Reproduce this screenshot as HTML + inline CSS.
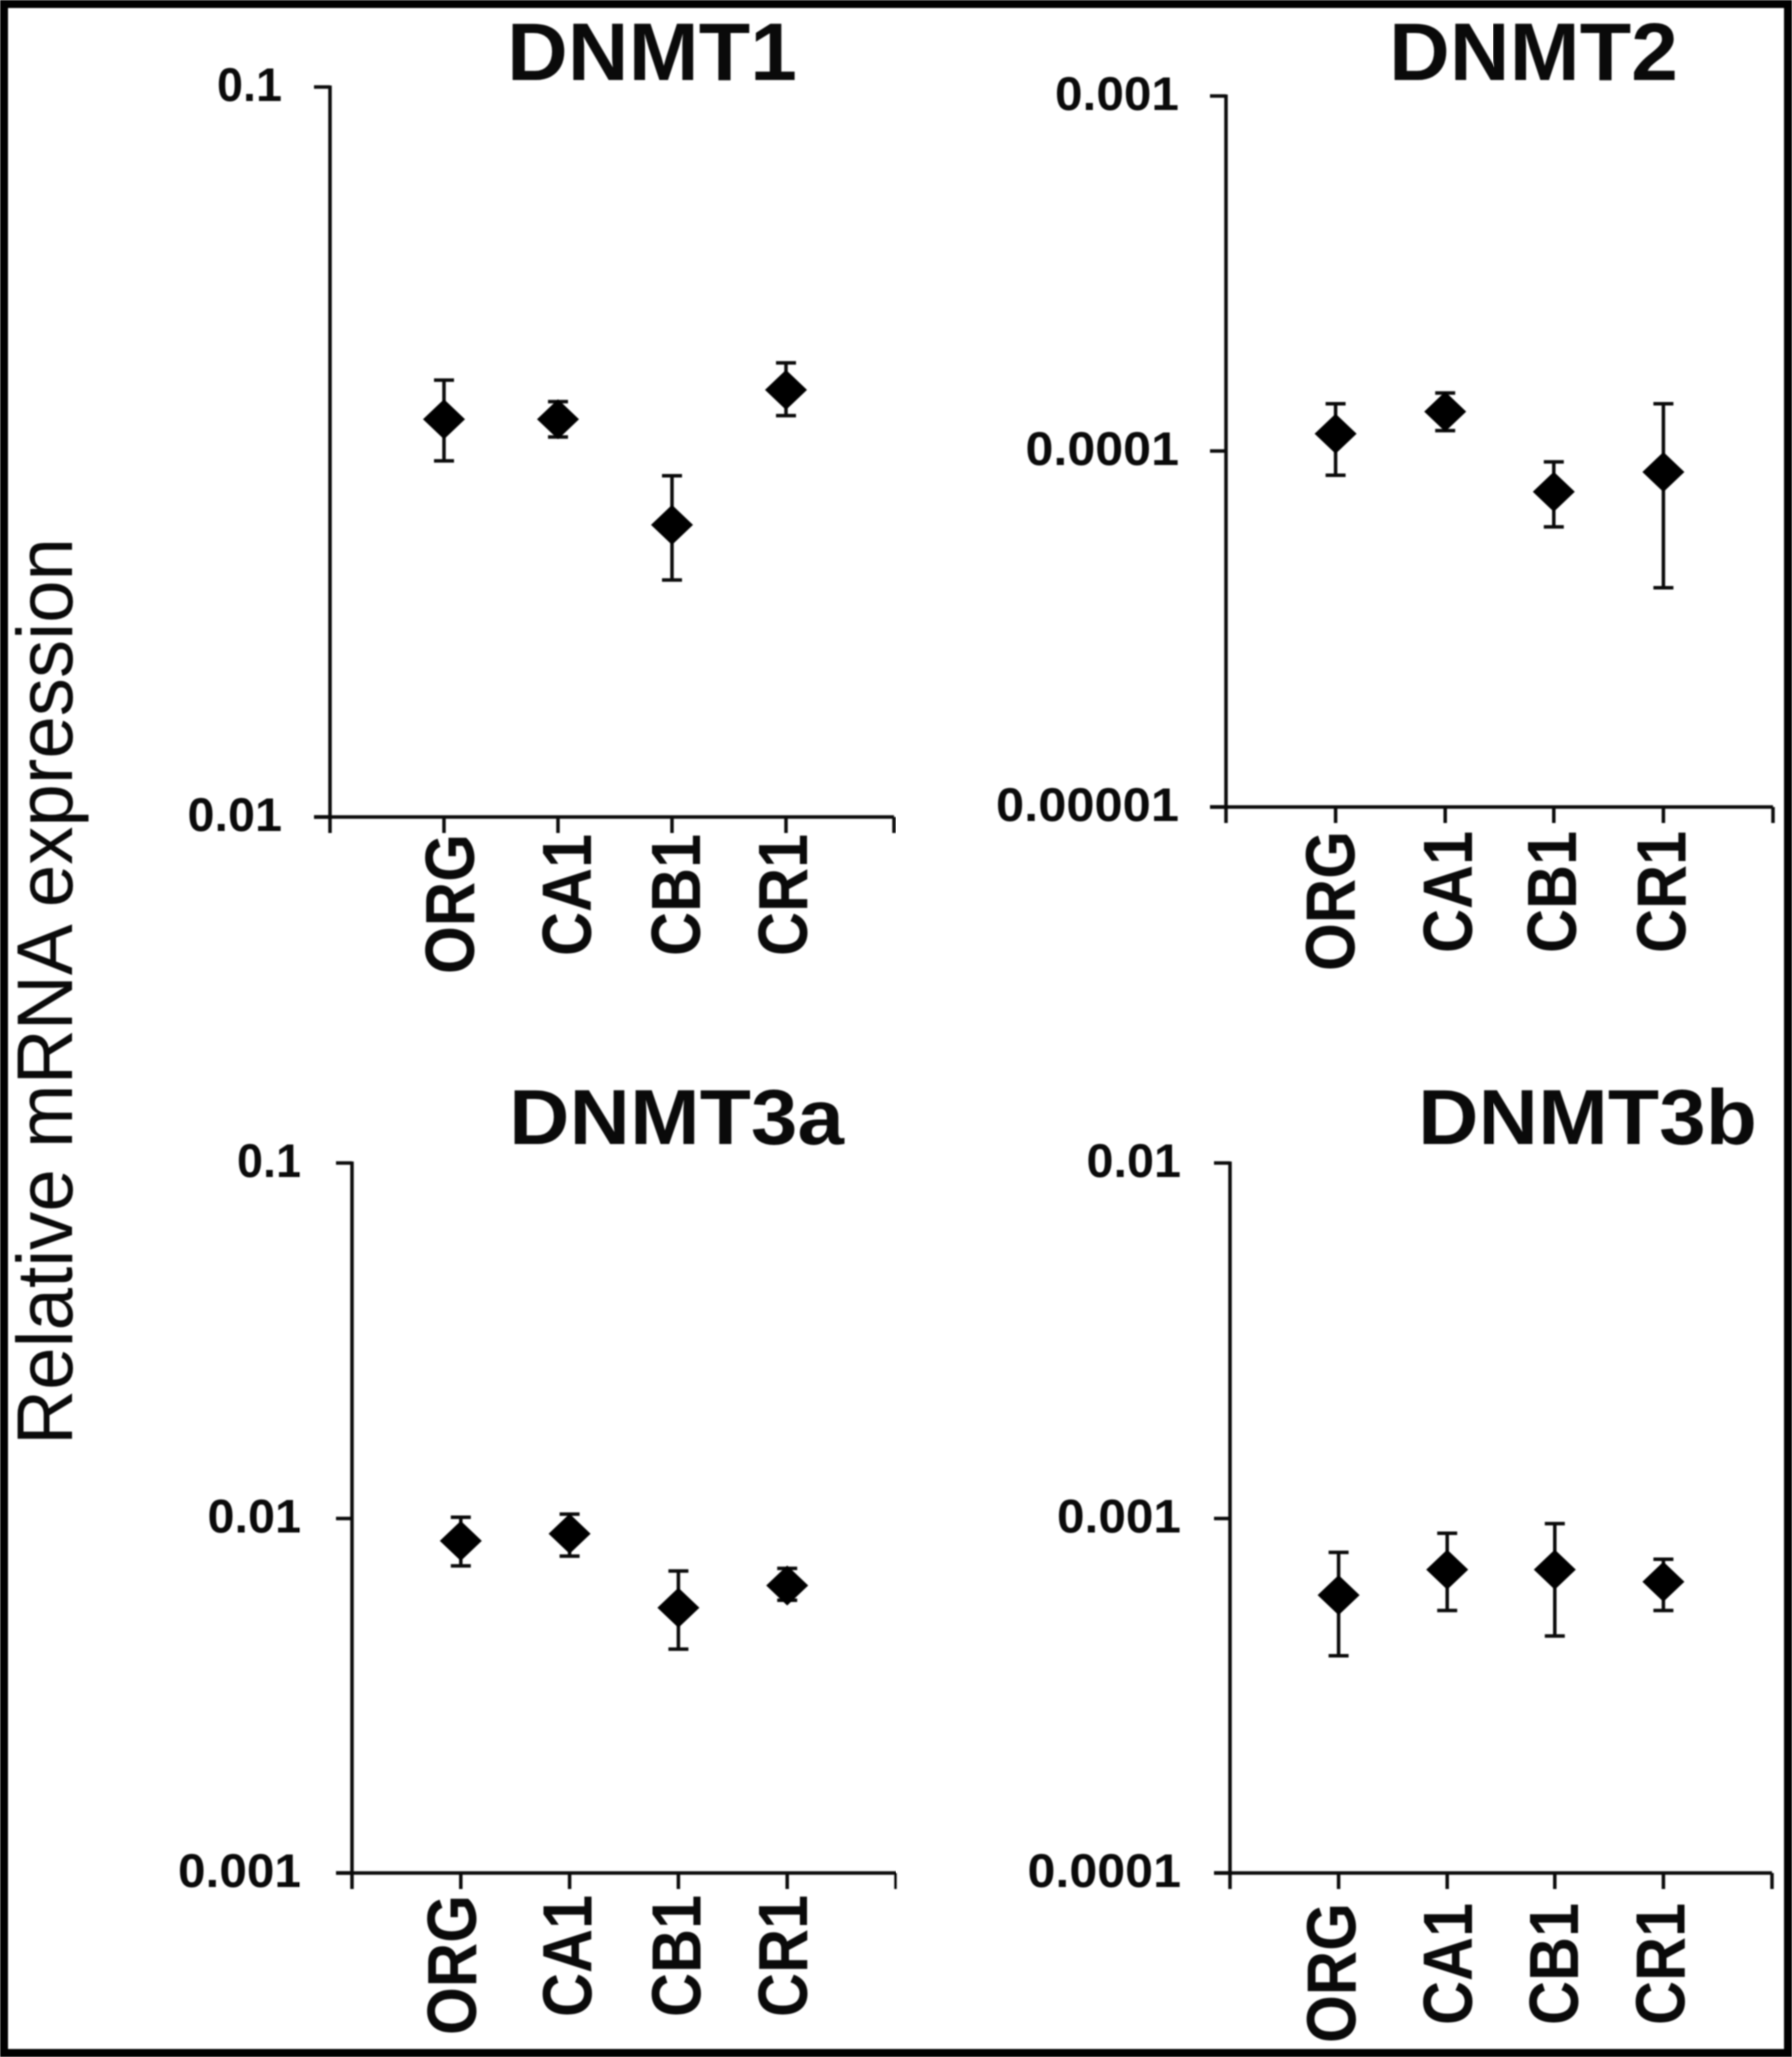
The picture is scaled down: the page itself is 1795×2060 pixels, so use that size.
<!DOCTYPE html>
<html lang="en">
<head>
<meta charset="utf-8">
<title>DNMT relative mRNA expression</title>
<style>
  html, body { margin: 0; padding: 0; background: #fff; }
  svg { display: block; filter: blur(0.9px); }
  text { font-family: "Liberation Sans", sans-serif; fill: #0a0a0a; }
  .bold { font-weight: 700; }
</style>
</head>
<body>
<svg id="figure" xmlns="http://www.w3.org/2000/svg" width="1795" height="2060" viewBox="0 0 1795 2060">
  <rect x="0" y="0" width="1795" height="2060" fill="#000"/>
  <rect x="8" y="8" width="1779" height="2044" fill="#fff"/>
  <text transform="translate(72,1447) rotate(-90)" font-size="79" textLength="908" lengthAdjust="spacingAndGlyphs">Relative mRNA expression</text>
  <text class="bold" x="508" y="80" font-size="82" textLength="290" lengthAdjust="spacingAndGlyphs">DNMT1</text>
  <text class="bold" x="1391" y="80" font-size="82" textLength="290" lengthAdjust="spacingAndGlyphs">DNMT2</text>
  <text class="bold" x="510" y="1146" font-size="78" textLength="335" lengthAdjust="spacingAndGlyphs">DNMT3a</text>
  <text class="bold" x="1420" y="1146" font-size="78" textLength="340" lengthAdjust="spacingAndGlyphs">DNMT3b</text>
</svg>
<script>
const categories = ['ORG', 'CA1', 'CB1', 'CR1'];

const dnmt1Ticks = ['0.1', '0.01'];
const dnmt1Mean = [0.0350, 0.0350, 0.0251, 0.0384];
const dnmt1High = [0.0396, 0.0370, 0.0293, 0.0418];
const dnmt1Low = [0.0307, 0.0331, 0.0211, 0.0354];

const dnmt2Ticks = ['0.001', '0.0001', '0.00001'];
const dnmt2Mean = [0.0001118, 0.000129, 0.0000768, 0.0000873];
const dnmt2High = [0.0001357, 0.0001455, 0.0000932, 0.0001357];
const dnmt2Low = [0.0000855, 0.0001141, 0.0000612, 0.0000413];

const dnmt3aTicks = ['0.1', '0.01', '0.001'];
const dnmt3aMean = [0.00865, 0.00906, 0.00561, 0.00648];
const dnmt3aHigh = [0.01008, 0.01029, 0.00712, 0.00724];
const dnmt3aLow = [0.00736, 0.00784, 0.00429, 0.00589];

const dnmt3bTicks = ['0.01', '0.001', '0.0001'];
const dnmt3bMean = [0.000609, 0.000718, 0.000718, 0.000664];
const dnmt3bHigh = [0.000803, 0.000909, 0.000967, 0.000768];
const dnmt3bLow = [0.000411, 0.000551, 0.000467, 0.000551];

const panels = [
  { key: 'dnmt1', ticks: dnmt1Ticks, mean: dnmt1Mean, high: dnmt1High, low: dnmt1Low,
    left: 331, right: 895, scaleRight: 901, top: 87, bottom: 818, tickLabelRight: 281, catTop: 835, catNudge: [30, 33, 28, 21] },
  { key: 'dnmt2', ticks: dnmt2Ticks, mean: dnmt2Mean, high: dnmt2High, low: dnmt2Low,
    left: 1228, right: 1776, scaleRight: 1776, top: 96, bottom: 808, tickLabelRight: 1180, catTop: 832, catNudge: [19, 27, 22, 22] },
  { key: 'dnmt3a', ticks: dnmt3aTicks, mean: dnmt3aMean, high: dnmt3aHigh, low: dnmt3aLow,
    left: 353, right: 897, scaleRight: 897, top: 1165, bottom: 1876, tickLabelRight: 301, catTop: 1898, catNudge: [15, 22, 22, 20] },
  { key: 'dnmt3b', ticks: dnmt3bTicks, mean: dnmt3bMean, high: dnmt3bHigh, low: dnmt3bLow,
    left: 1232, right: 1775, scaleRight: 1775, top: 1165, bottom: 1876, tickLabelRight: 1182, catTop: 1906, catNudge: [17, 25, 23, 21] }
];

const svg = document.getElementById('figure');
const SVG_NS = 'http://www.w3.org/2000/svg';
const INK = '#0a0a0a';

function make(tag, attrs, parent) {
  const node = document.createElementNS(SVG_NS, tag);
  Object.keys(attrs).forEach(function (k) { node.setAttribute(k, attrs[k]); });
  parent.appendChild(node);
  return node;
}

function line(x1, y1, x2, y2, width, parent) {
  return make('line', { x1: x1, y1: y1, x2: x2, y2: y2, stroke: INK, 'stroke-width': width }, parent);
}

panels.forEach(function (p) {
  const tickValues = p.ticks.map(Number);
  const logMax = Math.log10(Math.max.apply(null, tickValues));
  const logMin = Math.log10(Math.min.apply(null, tickValues));
  const yScale = function (v) {
    return p.bottom - (Math.log10(v) - logMin) / (logMax - logMin) * (p.bottom - p.top);
  };
  const xStep = (p.scaleRight - p.left) / (categories.length + 1);
  const xScale = function (i) { return p.left + (i + 1) * xStep; };

  const group = make('g', {}, svg);
  
  

  const yAxis = line(p.left, p.top - 1.5, p.left, p.bottom + 16, 3.5, group);
  
  

  const xAxis = line(p.left - 16, p.bottom, p.right, p.bottom, 3.5, group);
  
  

  const endTick = line(p.right, p.bottom, p.right, p.bottom + 16, 3.5, group);
  
  

  p.ticks.forEach(function (label, idx) {
    const y = yScale(tickValues[idx]);
    const tick = line(p.left - 16, y, p.left, y, 3.5, group);
    
    

    const width = 65 + 29.5 * (label.length - 3);
    const txt = make('text', {
      x: p.tickLabelRight + 1 - width,
      y: y + 14,
      'font-size': 47,
      textLength: width,
      lengthAdjust: 'spacingAndGlyphs',
      class: 'bold'
    }, group);
    txt.textContent = label;
    
    
  });

  categories.forEach(function (cat, i) {
    const x = xScale(i);

    const tick = line(x, p.bottom, x, p.bottom + 16, 3.5, group);
    
    

    const labelLength = cat === 'ORG' ? 140 : 122;
    const labelX = x + p.catNudge[i];
    const labelY = p.catTop + labelLength;
    const txt = make('text', {
      transform: 'translate(' + labelX + ',' + labelY + ') rotate(-90)',
      'font-size': 70,
      textLength: labelLength,
      lengthAdjust: 'spacingAndGlyphs',
      class: 'bold'
    }, group);
    txt.textContent = cat;
    
    

    const yHigh = yScale(p.high[i]);
    const yLow = yScale(p.low[i]);
    const yMean = yScale(p.mean[i]);

    const stem = line(x, yHigh, x, yLow, 3.5, group);
    
    

    const capTop = line(x - 10, yHigh, x + 10, yHigh, 3.5, group);
    
    

    const capBottom = line(x - 10, yLow, x + 10, yLow, 3.5, group);
    
    

    const pts = [[x, yMean - 20], [x + 21, yMean], [x, yMean + 20], [x - 21, yMean]]
      .map(function (q) { return q[0] + ',' + q[1]; }).join(' ');
    const marker = make('polygon', { points: pts, fill: '#000' }, group);
    
    
  });
});
</script>
</body>
</html>
